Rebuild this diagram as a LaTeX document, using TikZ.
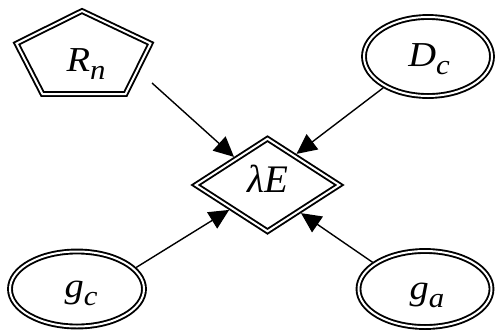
\documentclass[tikz,border=0pt]{standalone}
\usepackage{fontspec}
\setmainfont{Liberation Serif}
\usepackage{graphicx}
\usetikzlibrary{shapes.geometric,arrows.meta}
\newcommand\lab[2]{\scalebox{1.1}[1]{\fontsize{35}{35}\selectfont\itshape #1\raisebox{-8pt}{\fontsize{28}{28}\selectfont #2}}}
\tikzset{
  dbl/.style={draw, line width=1.9pt, double=white, double distance=2pt, line join=miter},
  ell/.style={dbl, ellipse, inner sep=0pt, outer sep=2.9pt},
  dia/.style={dbl, diamond, inner sep=0pt, outer sep=2.9pt},
  lbl/.style={anchor=base, inner sep=0pt},
  arr/.style={line width=1.4pt, -{Triangle[length=20pt,width=19pt]}}
}
\begin{document}
\begin{tikzpicture}[x=1pt,y=-1pt]
\useasboundingbox (0,0) rectangle (496,333);
% pentagon
\draw[dbl] (82,11) -- (150.5,43.5) -- (125.5,94) -- (42.5,94) -- (16.5,43.5) -- cycle;
\coordinate (P) at (152,83);
\node[lbl] (tR) at (86,71) {\lab{R}{n}};
% ellipses
\node[ell, minimum width=128pt, minimum height=79pt] (Dc) at (428,56.5) {};
\node[lbl] (tD) at (429,66) {\lab{D}{c}};
\node[ell, minimum width=134pt, minimum height=75pt] (gc) at (77,289) {};
\node[lbl] (tgc) at (81,297) {\lab{g}{c}};
\node[ell, minimum width=133pt, minimum height=76pt] (ga) at (425,289) {};
\node[lbl] (tga) at (427,299) {\lab{g}{a}};
% diamond
\node[dia, minimum width=146pt, minimum height=95pt] (E) at (267.5,185) {};
\node[lbl] (tE) at (267.5,192) {\fontsize{39}{39}\selectfont\itshape λE};
% connectors
\draw[arr] (P) -- (E.140.6);
\draw[arr] (Dc.215.8) -- (E.47.8);
\draw[arr] (gc.20.8) -- (E.213.4);
\draw[arr] (ga.153.9) -- (E.320.1);
\end{tikzpicture}
\end{document}
